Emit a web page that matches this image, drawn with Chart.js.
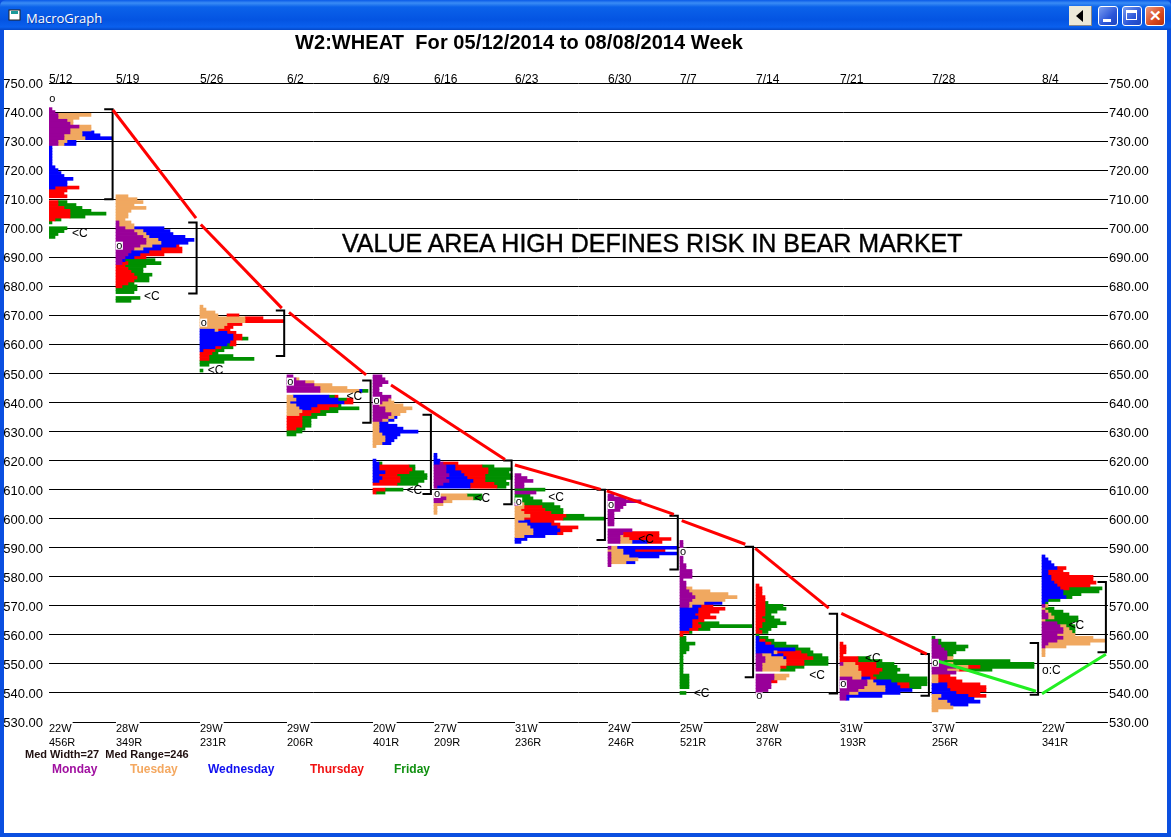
<!DOCTYPE html>
<html><head><meta charset="utf-8">
<script src="https://cdn.jsdelivr.net/npm/chart.js@4"></script>
<style>
html,body{margin:0;padding:0;width:1171px;height:837px;overflow:hidden;background:#0a4fe0;font-family:"Liberation Sans",sans-serif}
#bar{position:absolute;left:0;top:0;width:1171px;height:30px;border-radius:6px 6px 0 0;background:linear-gradient(#0a5ae8 0,#3a8cf5 3px,#0b62ea 7px,#0454e2 20px,#0a60ee 27px,#0448c8 30px)}
#client{position:absolute;left:4px;top:30px;width:1163px;height:803px;background:#fff}
canvas{position:absolute;left:0;top:0}
.t{position:absolute;white-space:pre;line-height:1}
#cap{left:26px;top:9px;color:#fff;font:13px "Open Sans",sans-serif;text-shadow:1px 1px 0 #0a3cae}
.btn{position:absolute;top:6px;width:20px;height:20px;border:1px solid #fff;border-radius:3px;box-sizing:border-box;background:linear-gradient(135deg,#7a9df0,#2a55d8 60%,#1f46c0)}
#back{position:absolute;left:1069px;top:6px;width:23px;height:20px;background:#ece9d8;border-right:1px solid #888;border-bottom:1px solid #888;box-sizing:border-box}
#back:after{content:"";position:absolute;left:7px;top:4px;border:6px solid transparent;border-right:7px solid #000;border-left:0}
</style></head><body>
<div id="bar"></div><div id="client"></div>
<svg style="position:absolute;left:8px;top:9px" width="14" height="13"><rect x="1" y="1" width="11" height="10" fill="#fff" stroke="#222"/><rect x="3" y="2" width="7" height="3" fill="#1a9a9a"/></svg>
<div class="t" id="cap">MacroGraph</div>
<div id="back"></div>
<div class="btn" style="left:1098px"><div style="position:absolute;left:4px;top:12px;width:8px;height:3px;background:#fff"></div></div>
<div class="btn" style="left:1122px"><div style="position:absolute;left:3px;top:3px;width:11px;height:10px;border:1px solid #fff;border-top:3px solid #fff;box-sizing:border-box"></div></div>
<div class="btn" style="left:1145px;background:linear-gradient(135deg,#ec9a80,#d8481e 60%,#b8300c);color:#fff;font:bold 15px 'Liberation Sans';text-align:center;line-height:18px">✕</div>
<canvas id="c" width="1171" height="837"></canvas>
<div class="t" style="left:295px;top:32px;font-weight:bold;font-size:20px;letter-spacing:0.07px;color:#000" id="title">W2:WHEAT  For 05/12/2014 to 08/08/2014 Week</div>
<div class="t" style="left:342px;top:231px;font-size:25px;color:#000;-webkit-text-stroke:0.4px #000" id="note">VALUE AREA HIGH DEFINES RISK IN BEAR MARKET</div>
<div class="t" style="left:25px;top:749px;font-weight:bold;font-size:11px;color:#201010">Med Width=27  Med Range=246</div>
<div class="t" style="left:52px;top:763px;font-weight:bold;font-size:12px;color:#a010a0">Monday</div>
<div class="t" style="left:130px;top:763px;font-weight:bold;font-size:12px;color:#f4a860">Tuesday</div>
<div class="t" style="left:208px;top:763px;font-weight:bold;font-size:12px;color:#1010f0">Wednesday</div>
<div class="t" style="left:310px;top:763px;font-weight:bold;font-size:12px;color:#f01010">Thursday</div>
<div class="t" style="left:394px;top:763px;font-weight:bold;font-size:12px;color:#109010">Friday</div>
<script>
const M=0,T=1,B=2,H=3,F=4,G=5;
const dayNames=['Monday','Tuesday','Wednesday','Thursday','Friday'];
const dayColors=['#990099','#f0a860','#0000ff','#ff0000','#008f00'];
const weekDates=['5/12','5/19','5/26','6/2','6/9','6/16','6/23','6/30','7/7','7/14','7/21','7/28','8/4'];
const weekWidths=[22,28,29,29,20,27,31,24,25,28,31,37,22];
const weekRanges=[456,349,231,206,401,209,236,246,521,376,193,256,341];
const weekStarts=[0,22.33,50.33,79.33,108,128.33,155.33,186.33,210.33,235.67,263.67,294.33,331];
const topPrices=[741,711,673,649,649,622,615,608,592,577,557,559,587];
// every row is one price point lower than the one before; pairs of day,count from the left
const week01=[[M,1],[M,2],[M,3,T,11],[M,3,T,7],[M,6,T,2],[M,7,T,1],[M,10,T,4],[M,7,T,7],[M,7,T,4,B,4],[M,5,T,6,B,6],[M,5,T,7,B,9],[M,3,T,3,B,3],[M,3,T,2,B,4],[B,1],[B,1],[B,1],[B,1],[B,1],[B,1],[B,1],[B,2],[B,3],[B,4],[B,5],[B,8],[B,6],[B,6],[B,2,H,8],[H,6],[H,5],[H,6],[],[H,3,F,3],[H,3,F,6],[H,5,F,6],[H,7,F,7],[H,7,F,12],[H,7,F,5],[H,2,F,2],[F,1],[],[F,6],[F,5],[F,3],[F,2]];
const week02=[[T,4],[T,7],[T,9],[T,6],[T,10],[T,5],[T,4],[T,4],[T,3],[M,1,T,4],[M,1,T,5],[M,3,T,3,B,10],[M,6,T,3,B,9],[M,7,T,3,B,9],[M,9,T,2,B,12],[M,10,T,4,B,12],[M,10,T,5,B,9],[M,8,T,4,B,8,H,1],[M,6,T,3,B,6,H,7],[M,5,B,6,H,11],[M,4,B,4,H,8],[M,3,B,3,H,4],[M,2,B,1,F,10],[M,2,H,2,F,11],[H,3,F,7],[H,4,F,5],[H,5,F,4],[H,6,F,6],[H,7,F,4],[H,6,F,5],[H,4,F,2],[H,2,F,5],[F,7],[F,6],[],[F,8],[F,5]];
const week03=[[T,1],[T,2],[T,5],[T,6,G,3,H,4],[T,15,H,6],[T,15,H,13],[T,9,H,5],[T,8,H,3],[B,5,T,1,H,4],[B,9,H,3],[B,11,H,3],[B,11,H,3,F,2],[B,10,H,2],[B,9,F,1,H,2],[B,5,H,2,F,4],[B,1,H,4,F,3],[H,4,F,2],[H,3,F,8],[H,3,F,15],[F,8],[F,3],[],[F,1]];
const week04=[[M,2],[M,3,T,1],[M,6,T,3],[M,9,T,6],[M,11,T,9],[M,11,T,13,B,1,F,2],[],[T,2,B,12,F,2,H,1],[T,3,B,14,F,3,H,2],[T,1,B,18,H,3],[T,3,B,7,H,7,F,1],[T,4,B,4,H,6,F,10],[T,5,H,6,F,6],[T,4,H,4,F,5],[H,5,F,5],[H,5,F,3],[H,5,F,3],[H,5,F,3],[H,3,F,3],[F,5],[F,3]];
const week05=[[M,3],[M,4],[M,5],[M,3],[M,2],[M,2],[M,3],[M,6],[M,5,T,1],[M,3,T,4],[M,2,T,8],[M,4,T,9],[M,4,T,7],[M,6,T,3],[M,5,T,2,B,1],[M,3,T,2,B,2],[T,2,B,3],[T,2,B,6],[T,2,B,8],[T,2,B,13],[T,3,B,6],[T,4,B,4],[T,4,B,3],[T,3,B,3],[T,1],[],[],[],[],[B,1],[B,2,F,1],[B,2,H,10,F,2],[B,2,H,11,F,1],[B,4,H,8,F,5],[B,2,H,6,F,10],[B,3,H,6,F,9],[B,2,H,7,F,8],[H,8,F,7],[],[H,4,F,6],[H,1,F,3]];
const week06=[[B,1],[B,1],[B,2],[B,2,M,1,H,5],[M,4,B,3,H,9,F,4],[M,4,B,3,H,11,F,8],[M,4,B,5,H,9,F,7],[M,5,B,5,H,7,F,9],[M,4,B,7,H,6,F,9],[M,5,B,8,H,4,F,7],[M,3,B,9,H,8,F,5],[M,1,B,11,H,9,F,3],[],[],[T,11,F,5],[M,4,T,9,F,3],[M,3,T,3],[T,3],[T,1],[T,1],[T,1]];
const week07=[[M,2],[M,4],[M,6],[M,3],[M,3],[F,10],[M,7],[F,5],[F,6],[F,9],[M,1,T,2,F,10],[T,3,H,6,F,6],[T,2,H,8,F,6],[T,3,H,9,F,4],[T,5,H,12,F,6],[T,3,H,13,F,14],[T,1,B,4,H,8],[T,4,B,8,H,3],[T,5,B,9,H,7],[T,6,B,9,H,4],[T,6,B,8,H,2],[T,3,B,7],[B,4],[B,2]];
const week08=[[M,2],[M,6],[M,11],[M,6],[M,5],[M,4],[M,2],[M,2],[M,2],[M,2],[M,2],[],[M,8],[M,5,H,12],[M,4,T,1,H,12],[M,4,T,3,H,14],[M,4,T,4,B,5,H,5],[],[M,1,T,2,B,20],[T,5,B,4,H,10],[M,1,T,4,B,18],[M,1,T,6,B,10],[M,1,T,9],[M,1,T,5,B,3],[M,1]];
const week09=[[M,1],[M,1],[M,1],[M,1],[M,1],[M,1],[M,1],[M,1],[M,2],[M,2],[M,4],[M,4],[M,4],[M,1],[M,2],[M,2],[M,2,T,2],[M,3,T,7],[M,4,T,12],[M,5,T,14],[M,4,T,11],[M,3,T,5,B,6],[M,3,T,1,B,3,H,4],[B,6,H,9],[B,6,H,7],[B,5,H,5],[B,6,H,6],[B,4,H,4],[B,4,H,2,F,7],[B,4,H,3,F,17],[B,3,H,3,F,4],[H,3,F,1],[H,1],[F,2],[F,2],[F,5],[F,3],[F,3],[F,2],[F,1],[F,1],[F,1],[F,1],[F,1],[F,1],[F,1],[F,3],[F,3],[F,3],[F,3],[F,3],[],[F,2]];
const week10=[[H,1],[H,2],[H,2],[H,2],[H,3],[H,3],[H,3,F,1],[H,3,F,6],[H,3,F,7],[H,3,F,4],[H,3,F,2],[H,2,F,4],[H,3,F,5],[H,2,F,8],[H,2,F,5],[H,1,F,4],[H,2,F,2],[F,1],[B,1,F,3],[B,1,H,2,F,3],[B,3,H,2,F,5],[B,6,F,8],[B,13,F,5],[B,6,T,1,H,8,F,4],[M,2,T,3,B,4,H,8,F,5],[M,3,T,6,B,1,H,9,F,5],[M,3,T,7,H,6,F,8],[M,2,T,8,H,6,F,8],[M,2,T,6,H,2,F,6],[M,2,T,6,F,5],[],[M,6,T,5],[M,6,T,4],[M,5,H,2],[M,5],[M,5],[M,4],[M,2]];
const week11=[[H,1],[H,2],[H,2],[H,2],[H,1],[H,6,F,4],[H,6,F,8],[M,1,T,4,H,7,F,6],[T,6,H,6,F,7],[T,6,H,8,F,6],[T,7,H,6,F,6],[T,7,H,4,F,12],[M,4,T,3,B,3,H,2,F,17],[M,9,T,2,B,6,F,12],[M,9,T,3,B,7,H,4,F,6],[M,8,T,7,B,5,H,3,F,4],[M,6,T,9,B,9],[M,3,T,3,B,14],[M,2,B,12],[M,2,B,1]];
const week12=[[F,1],[M,2,F,1],[M,2,F,6],[M,3,F,9],[M,4,F,7],[M,5,F,3],[M,5,F,2],[M,5,T,2],[M,4,F,22],[M,5,T,2,F,27],[M,8,T,4,H,4,F,18],[M,5,T,4,H,3,F,8],[M,8],[T,2,H,4],[T,2,H,6],[T,2,H,8],[B,5,H,11],[B,5,H,13],[B,6,H,12],[B,8,H,8],[T,3,B,9,H,6],[T,2,B,12],[T,5,B,11],[T,6,B,6],[T,7],[T,2]];
const week13=[[B,1],[B,2],[B,3],[B,4],[B,5,H,3],[B,2,H,5],[B,2,H,7],[B,3,H,14],[B,3,H,14],[B,4,H,14],[B,5,H,11],[B,6,H,3,F,11],[B,7,F,12],[B,7,F,6],[B,8,F,2],[B,2,F,4],[B,1,F,1],[M,1,T,1],[T,1,F,3],[M,1,T,1,F,5],[M,2,T,1,F,6],[M,2,T,2,F,8],[M,0,T,1,F,11],[M,5,F,5],[M,6,T,2,F,3],[M,7,T,2,F,2],[M,7,T,3,F,1],[M,5,T,6],[M,7,T,10],[M,5,T,16],[M,2,T,14],[M,1,T,7],[T,1],[T,1],[T,1]];
const weeks=[week01,week02,week03,week04,week05,week06,week07,week08,week09,week10,week11,week12,week13];
// value-area brackets: high, low, position on the width axis
const areaHigh=[741,702,671.7,647.6,635.8,620,610,601,590.3,567.3,553.4,557.2,578.2];
const areaLow=[710,677.5,656,633,608.5,605,592.7,582.5,545.4,539.8,539,539.4,554];
const areaX=[21.2,49.2,78.4,107.2,127.3,154.2,185.3,209.6,234.7,262.7,293.3,329.7,352.3];
const redRisk=[[21.3,740.7,49,703.5],[50.6,701.3,77.6,672.5],[80,671,105.7,649.5],[114,646,152,620.4],[155.3,618.5,183.9,610.1],[185.9,609.6,208.3,601.5],[210.9,599.3,232.1,591.2],[235.4,589.8,259.9,569.2],[264.1,567.4,292.6,553.4]];
const greenRisk=[[295.9,551.1,329,540.6],[331,539.7,352.3,553.3]];
const closeMarks=[[7.7,698],[31.7,676.3],[52.9,651],[99.2,642],[119.2,609.5],[141.8,606.8],[166.4,607.4],[196.4,592.9],[214.9,539.6],[253.4,545.9],[272,551.7],[339.8,563]];
const openMarks=[[0.9,744.4],[23.3,694],[51.4,667.5],[80.3,647.2],[109,640.6],[129.2,608.5],[156.4,605.9],[187.2,604.7],[211.2,588.6],[236.6,538.8],[264.6,543],[295.3,550.4]];
const mixedMarks=[[331,547.7]];

const rowsByDay=dayNames.map(()=>[]);
weeks.forEach((rows,i)=>rows.forEach((row,r)=>{
  let pos=weekStarts[i];
  for(let k=0;k<row.length;k+=2){
    if(row[k]!==G&&row[k+1]>0)rowsByDay[row[k]].push({x:[pos,pos+row[k+1]],y:topPrices[i]-r});
    pos+=row[k+1];
  }
}));
const barSets=dayNames.map((n,d)=>({type:'bar',label:n,data:rowsByDay[d],backgroundColor:dayColors[d],borderWidth:0,barThickness:3,grouped:false,order:3,xAxisID:'x',yAxisID:'y'}));
const lineSet=(pts,color,w,order,label)=>({type:'scatter',label,indexAxis:'x',data:pts,showLine:true,borderColor:color,borderWidth:w,pointRadius:0,order,xAxisID:'x',yAxisID:'y',tension:0,fill:false,borderCapStyle:'butt'});
const hook=2.8;
const brackets=areaX.map((x,i)=>lineSet([{x:x-hook,y:areaHigh[i]},{x,y:areaHigh[i]},{x,y:areaLow[i]},{x:x-hook,y:areaLow[i]}],'#000',2,2,'Value area '+weekDates[i]));
const reds=redRisk.map(s=>lineSet([{x:s[0],y:s[1]},{x:s[2],y:s[3]}],'#ff0000',3,1,'Value area high'));
const greens=greenRisk.map(s=>lineSet([{x:s[0],y:s[1]},{x:s[2],y:s[3]}],'#22ee22',3,0,'Value area low'));
const xMax=353,yMin=530,yMax=750;
const marks={id:'marks',afterDatasetsDraw(ch){
  const c=ch.ctx,sx=ch.scales.x,sy=ch.scales.y;
  c.save();c.fillStyle='#000';c.textBaseline='middle';c.textAlign='left';
  for(const [x,p] of openMarks){const px=sx.getPixelForValue(x),py=sy.getPixelForValue(p);
    c.fillStyle='#fff';c.fillRect(px-3,py-4,7,8);c.fillStyle='#000';c.font='11px "Liberation Sans"';c.textAlign='center';c.fillText('o',px+0.5,py);}
  c.textAlign='left';c.font='12px "Liberation Sans"';
  for(const [x,p] of closeMarks)c.fillText('<C',sx.getPixelForValue(x),sy.getPixelForValue(p));
  for(const [x,p] of mixedMarks)c.fillText('o:C',sx.getPixelForValue(x),sy.getPixelForValue(p));
  c.restore();
}};
const setTicks=s=>{s.ticks=weekStarts.map(v=>({value:v}));};
const yOpts=(pos,width,pad,grid)=>({type:'linear',position:pos,min:yMin,max:yMax,offset:false,
  afterFit:s=>{s.width=width;},
  grid:{display:grid,offset:false,color:'#000',lineWidth:1,drawTicks:false},border:{display:false},
  ticks:{stepSize:10,padding:pad,color:'#000',labelOffset:1.5,autoSkip:false,font:{family:'"Liberation Sans"',size:13},callback:v=>v.toFixed(2)}});
const xOpts=(pos,height,pad,size,backdrop,cb)=>({type:'linear',position:pos,min:0,max:xMax,afterFit:s=>{s.height=height;},afterBuildTicks:setTicks,
  grid:{display:false,drawTicks:false},border:{display:false},
  ticks:{z:1,align:'start',maxRotation:0,autoSkip:false,padding:pad,color:'#000',font:{family:'"Liberation Sans"',size},
    showLabelBackdrop:!!backdrop,backdropColor:'#fff',backdropPadding:backdrop||0,callback:cb}});
new Chart(document.getElementById('c'),{
  type:'bar',
  data:{datasets:[...barSets,...brackets,...reds,...greens]},
  plugins:[marks],
  options:{indexAxis:'y',responsive:false,animation:false,events:[],layout:{padding:0},
    plugins:{legend:{display:false},tooltip:{enabled:false},title:{display:false}},
    scales:{
      x:xOpts('bottom',14,0,11,{top:2,bottom:0,left:0,right:1},(v,i)=>weekWidths[i]+'W'),
      xRange:xOpts('bottom',101,0,11,null,(v,i)=>weekRanges[i]+'R'),
      xTop:xOpts('top',83,-4,12,{top:0,bottom:1,left:0,right:1},(v,i)=>weekDates[i]),
      y:yOpts('left',49,6,true),
      y2:yOpts('right',63,1,false)
    }}
});
</script>
</body></html>
